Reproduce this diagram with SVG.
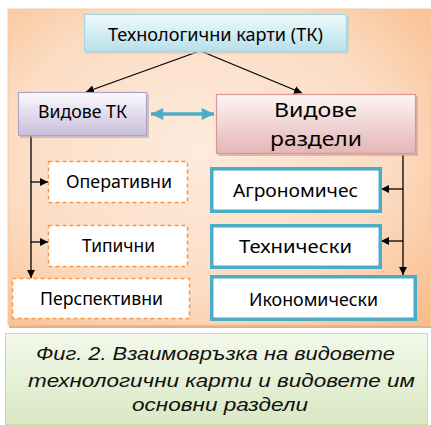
<svg xmlns="http://www.w3.org/2000/svg" width="431" height="425" viewBox="0 0 431 425">
<style>
.t{font-family:"Noto Sans","Open Sans","Liberation Sans",sans-serif;fill:#000;text-anchor:middle;font-size:18px}
.big{font-size:20px}
.dash{fill:#fff;stroke:#f79646;stroke-width:1.5;stroke-dasharray:4 3}
.teal{fill:#fff;stroke:#4bacc6;stroke-width:3.5}
.ln{stroke:#000;stroke-width:1.3;fill:none}
.cap{font-family:"Liberation Sans",Arial,sans-serif;font-style:italic;font-size:19px;fill:#111;text-anchor:middle}
</style>
<defs>
<radialGradient id="bg" cx="0.45" cy="0.45" r="0.75">
<stop offset="0" stop-color="#fdebdd"/>
<stop offset="0.6" stop-color="#fcdcc3"/>
<stop offset="1" stop-color="#f8bd8c"/>
</radialGradient>
<linearGradient id="capg" x1="0" y1="0" x2="0" y2="1">
<stop offset="0" stop-color="#f3f8ea"/>
<stop offset="1" stop-color="#d9e8c3"/>
</linearGradient>
<linearGradient id="blue" x1="0" y1="0" x2="0" y2="1">
<stop offset="0" stop-color="#effafc"/>
<stop offset="1" stop-color="#b7e0ea"/>
</linearGradient>
<linearGradient id="purp" x1="0" y1="0" x2="0" y2="1">
<stop offset="0" stop-color="#fbfafd"/>
<stop offset="1" stop-color="#c8bedb"/>
</linearGradient>
<linearGradient id="pink" x1="0" y1="0" x2="0" y2="1">
<stop offset="0" stop-color="#fdf5f5"/>
<stop offset="1" stop-color="#e4b6b5"/>
</linearGradient>
<marker id="ah" viewBox="0 0 10 10" refX="10" refY="5" markerWidth="8" markerHeight="8" markerUnits="userSpaceOnUse" orient="auto">
<path d="M0,0 L10,5 L0,10 z" fill="#000"/>
</marker>
<marker id="th" viewBox="0 0 10 10" refX="10" refY="5" markerWidth="4" markerHeight="3.5" orient="auto-start-reverse">
<path d="M0,0 L10,5 L0,10 z" fill="#4bacc6"/>
</marker>
</defs>
<rect x="0" y="0" width="431" height="425" fill="#fff"/>
<rect x="9" y="11" width="422" height="317" fill="#e7ae86"/>
<rect x="8" y="9" width="423" height="316" fill="url(#bg)" stroke="#f7c9a6" stroke-width="1"/>
<g id="caption">
<rect x="5.5" y="333.5" width="422" height="91" fill="url(#capg)" stroke="#c6dcaa" stroke-width="1"/>
<text class="cap" x="215.5" y="360" textLength="359" lengthAdjust="spacingAndGlyphs">Фиг. 2. Взаимовръзка на видовете</text>
<text class="cap" x="221.5" y="387" textLength="387" lengthAdjust="spacingAndGlyphs">технологични карти и видовете им</text>
<text class="cap" x="220" y="411" textLength="176" lengthAdjust="spacingAndGlyphs">основни раздели</text>
</g>
<g id="connectors">
<line class="ln" x1="197" y1="52" x2="86" y2="92" marker-end="url(#ah)"/>
<line class="ln" x1="203" y1="52" x2="302" y2="93" marker-end="url(#ah)"/>
<line x1="151" y1="114" x2="214" y2="114" stroke="#4bacc6" stroke-width="3.5" marker-start="url(#th)" marker-end="url(#th)"/>
<line class="ln" x1="31" y1="136" x2="31" y2="278" marker-end="url(#ah)"/>
<line class="ln" x1="31" y1="182" x2="48" y2="182" marker-end="url(#ah)"/>
<line class="ln" x1="31" y1="242" x2="48" y2="242" marker-end="url(#ah)"/>
<line class="ln" x1="403" y1="155" x2="403" y2="275" marker-end="url(#ah)"/>
<line class="ln" x1="403" y1="189" x2="381" y2="189" marker-end="url(#ah)"/>
<line class="ln" x1="403" y1="241" x2="381" y2="241" marker-end="url(#ah)"/>
</g>
<g id="tk">
<rect x="86" y="16" width="263" height="38" fill="#c8c8c8" opacity="0.6"/>
<rect x="84.5" y="14.5" width="262" height="37" fill="url(#blue)" stroke="#a5d7e3" stroke-width="1.2"/>
<text class="t" x="215.5" y="41" textLength="215" lengthAdjust="spacingAndGlyphs">Технологични карти (ТК)</text>
</g>
<g id="vidove-tk">
<rect x="20" y="94" width="129" height="44" fill="#aaa" opacity="0.6"/>
<rect x="18.5" y="92.5" width="128" height="43" fill="url(#purp)" stroke="#b3a2c7" stroke-width="1.2"/>
<text class="t" x="82.5" y="118" textLength="89" lengthAdjust="spacingAndGlyphs">Видове ТК</text>
</g>
<g id="vidove-razdeli">
<rect x="218" y="96" width="200" height="60" fill="#c99" opacity="0.6"/>
<rect x="216.5" y="94.5" width="199" height="59" fill="url(#pink)" stroke="#d99694" stroke-width="1.2"/>
<text class="t big" x="315.5" y="117" textLength="83" lengthAdjust="spacingAndGlyphs">Видове</text>
<text class="t big" x="316" y="146" textLength="92" lengthAdjust="spacingAndGlyphs">раздели</text>
</g>
<g id="operativni">
<rect class="dash" x="48.5" y="161.5" width="139" height="41"/>
<text class="t" x="119" y="188" textLength="106" lengthAdjust="spacingAndGlyphs">Оперативни</text>
</g>
<g id="tipichni">
<rect class="dash" x="48.5" y="225.5" width="139" height="41"/>
<text class="t" x="118.5" y="252" textLength="73" lengthAdjust="spacingAndGlyphs">Типични</text>
</g>
<g id="perspektivni">
<rect class="dash" x="12.5" y="278.5" width="177" height="40"/>
<text class="t" x="101.5" y="305" textLength="123" lengthAdjust="spacingAndGlyphs">Перспективни</text>
</g>
<g id="agronomiches">
<rect class="teal" x="211.75" y="168.75" width="168.5" height="42.5"/>
<text class="t" x="295.5" y="197" textLength="125" lengthAdjust="spacingAndGlyphs">Агрономичес</text>
</g>
<g id="tehnicheski">
<rect class="teal" x="211.75" y="225.75" width="168.5" height="41.5"/>
<text class="t" x="295.5" y="253" textLength="113" lengthAdjust="spacingAndGlyphs">Технически</text>
</g>
<g id="ikonomicheski">
<rect class="teal" x="211.75" y="276.75" width="203.5" height="42.5"/>
<text class="t" x="313.5" y="306" textLength="129" lengthAdjust="spacingAndGlyphs">Икономически</text>
</g>
</svg>
